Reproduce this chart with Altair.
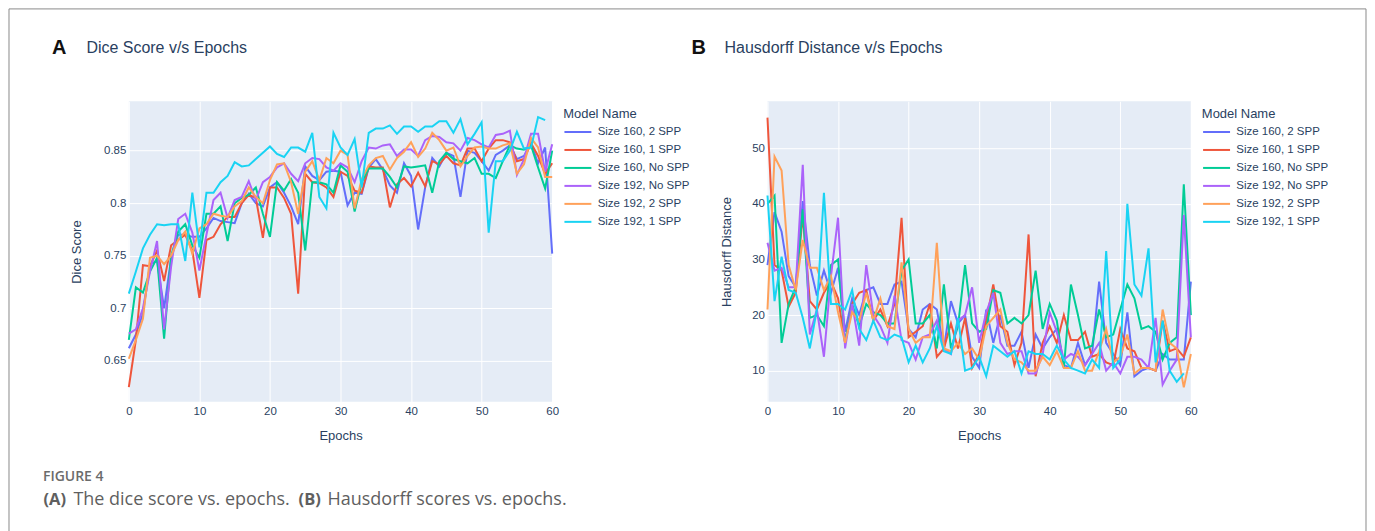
import altair as alt
import pandas as pd

MODELS = ["Size 160, 2 SPP", "Size 160, 1 SPP", "Size 160, No SPP",
          "Size 192, No SPP", "Size 192, 2 SPP", "Size 192, 1 SPP"]
COLORS = ["#636EFA", "#EF553B", "#00CC96", "#AB63FA", "#FFA15A", "#19D3F3"]
X_TICKS = [0, 10, 20, 30, 40, 50, 60]
DICE_TICKS = [0.65, 0.7, 0.75, 0.8, 0.85]
HD_TICKS = [10, 20, 30, 40, 50]

dice_160_2spp = [.662, .675, .695, .742, .745, .700, .748, .770, .770, .768,
                 .768, .776, .786, .783, .782, .781, .800, .809, .800, .797,
                 .815, .820, .810, .797, .780, .835, .826, .822, .830, .831,
                 .830, .798, .810, .809, .834, .842, .832, .817, .810, .838,
                 .826, .775, .815, .843, .835, .848, .845, .806, .850, .848,
                 .840, .831, .846, .850, .855, .842, .845, .857, .838, .853,
                 .752]
dice_160_1spp = [.625, .670, .741, .740, .755, .726, .760, .765, .770, .755,
                 .710, .765, .768, .780, .787, .787, .800, .808, .805, .767,
                 .815, .815, .805, .790, .714, .828, .820, .819, .815, .806,
                 .830, .826, .812, .810, .835, .834, .834, .796, .818, .824,
                 .816, .829, .816, .840, .837, .845, .838, .836, .852, .852,
                 .840, .852, .860, .860, .858, .840, .842, .857, .845, .828,
                 .838]
dice_160_nospp = [.670, .720, .715, .735, .748, .671, .750, .773, .780, .760,
                  .748, .790, .790, .797, .764, .800, .805, .808, .815, .790,
                  .768, .820, .812, .823, .810, .755, .820, .820, .818, .810,
                  .836, .830, .792, .820, .833, .833, .833, .825, .815, .835,
                  .834, .835, .836, .810, .840, .848, .842, .840, .838, .843,
                  .828, .828, .824, .840, .855, .852, .851, .855, .834, .814,
                  .850]
dice_192_nospp = [.676, .680, .700, .735, .764, .680, .740, .785, .790, .772,
                  .736, .770, .803, .810, .786, .803, .806, .821, .803, .820,
                  .825, .834, .838, .828, .821, .838, .843, .842, .834, .831,
                  .838, .834, .820, .840, .853, .852, .855, .856, .845, .851,
                  .851, .845, .860, .864, .863, .858, .857, .850, .862, .860,
                  .856, .853, .865, .866, .869, .827, .842, .866, .866, .830,
                  .856]
dice_192_2spp = [.652, .670, .690, .748, .750, .742, .750, .765, .773, .752,
                 .776, .780, .790, .788, .787, .797, .802, .815, .806, .800,
                 .822, .837, .838, .820, .790, .830, .840, .822, .843, .838,
                 .850, .846, .795, .823, .836, .843, .845, .832, .843, .849,
                 .858, .844, .852, .867, .860, .850, .853, .835, .845, .853,
                 .854, .852, .852, .855, .857, .828, .837, .862, .853, .825,
                 .825]
dice_192_1spp = [.714, .735, .757, .770, .780, .779, .780, .780, .745, .810,
                 .758, .810, .810, .820, .826, .839, .835, .836, .842, .848,
                 .854, .847, .844, .853, .853, .849, .867, .806, .795, .867,
                 .853, .846, .861, .815, .867, .871, .871, .874, .866, .873,
                 .873, .868, .873, .873, .878, .878, .867, .880, .856, .866,
                 .877, .772, .840, .840, .850, .868, .852, .853, .882, .879]

hd_160_2spp = [29, 38.5, 35, 27, 25, 40.5, 29, 23.5, 28, 24,
               28.5, 17, 23, 20, 24.5, 25, 22, 22, 25.5, 26,
               17.5, 16, 21, 22, 21, 14, 22.5, 18.5, 20, 12.5,
               10.5, 21, 15, 20, 14.5, 14.5, 17, 10.5, 16.5, 14,
               16, 17.5, 11, 10.5, 15, 11, 13, 26, 15, 13,
               11, 20.5, 9, 10, 10.5, 10, 13, 12, 12, 12,
               26]
hd_160_1spp = [55.5, 29, 28, 21.5, 24, 38, 22.5, 21, 24, 26,
               23, 15, 22, 24, 24.5, 19, 21, 18, 22, 37.5,
               16, 17, 18, 22, 12.5, 14, 18.5, 14, 19.5, 10.5,
               13, 19, 25.5, 18, 17, 11, 15, 34.5, 9, 15,
               18, 15, 20, 15.5, 15.5, 17, 12.5, 13, 11.5, 11,
               17.5, 14, 13.5, 10.5, 10.5, 10, 19, 13.5, 14, 12.5,
               16]
hd_160_nospp = [40, 41.5, 15, 22, 25, 39, 19.5, 20, 18, 29,
                30, 15, 22, 18, 22, 20.5, 20, 18.5, 18.5, 28,
                30, 18.5, 18.5, 20, 14, 25.5, 14, 18, 29, 18.5,
                17, 17.5, 24.5, 24, 18.5, 19.5, 18.5, 20, 28, 17.5,
                22, 19, 10.5, 25.5, 20, 14, 14.5, 21, 16, 16.5,
                21, 25.5, 23, 17.5, 18, 17, 12, 15, 16, 43.5,
                20]
hd_192_nospp = [33, 28, 28.5, 25, 25, 47, 16.5, 21, 12.5, 27,
                37.5, 14, 22, 14.5, 29, 20, 18, 15, 23.5, 15.5,
                15, 12, 16, 16.5, 19, 14, 13, 19, 20, 25,
                15, 20.5, 24, 15, 13, 13.5, 13.5, 9.5, 9.5, 13,
                20.5, 17, 12, 13, 12.5, 11, 13, 15, 10, 11.5,
                9.5, 12.5, 12.5, 12, 10.5, 19.5, 7.5, 10, 12, 38,
                16]
hd_192_2spp = [21, 48.5, 46, 29, 24.5, 33.5, 28.5, 28.5, 24.5, 27,
               20.5, 15, 20.5, 19, 24, 19, 23, 18, 17.5, 29.5,
               17.5, 15, 16, 16, 33, 14, 13.5, 15, 13, 14,
               12, 18, 19.5, 21, 15, 12, 11.5, 10, 10, 12.5,
               11, 13.5, 10.5, 10.5, 13.5, 10, 10, 13.5, 17.5, 11.5,
               12.5, 16.5, 9.5, 10.5, 10.5, 10, 21, 15, 14, 7,
               13]
hd_192_1spp = [41.5, 22.5, 30.5, 24.5, 24, 19.5, 14, 21, 42, 22,
               22, 21, 24.5, 17.5, 15.5, 19, 16, 15.5, 16.5, 16,
               11.5, 14.5, 11.5, 14, 18, 13.5, 13, 19.5, 10, 10.5,
               12.5, 9, 14.5, 13.5, 12.5, 13.5, 9.5, 13.5, 13, 13,
               12, 14.5, 12, 10.5, 10, 9.5, 12, 10.5, 31.5, 10.5,
               12, 40, 25.5, 23.5, 32, 11.5, 19, 10, 8, 9.5]

DICE = [dice_160_2spp, dice_160_1spp, dice_160_nospp,
        dice_192_nospp, dice_192_2spp, dice_192_1spp]
HD = [hd_160_2spp, hd_160_1spp, hd_160_nospp,
      hd_192_nospp, hd_192_2spp, hd_192_1spp]


def to_long(series_list):
    rows = []
    for name, vals in zip(MODELS, series_list):
        for ep, v in enumerate(vals):
            rows.append({"Epochs": ep, "value": v, "Model Name": name})
    return pd.DataFrame(rows)


INK = "#2a3f5f"
FONT = "Liberation Sans"
W, H = 424, 301
one = pd.DataFrame({"k": [0]})


def txt(text, x, y, size, weight="normal", color=INK, font=FONT):
    return alt.Chart(one).mark_text(
        text=text, align="left", baseline="middle", fontSize=size,
        fontWeight=weight, color=color, font=font
    ).encode(x=alt.value(x), y=alt.value(y))


def panel(series_list, ytitle, ydomain, yticks, yfmt, ytitle_pad):
    df = to_long(series_list)
    return alt.Chart(df).mark_line(strokeWidth=2).encode(
        x=alt.X("Epochs:Q",
                scale=alt.Scale(domain=[0, 60], nice=False),
                axis=alt.Axis(values=X_TICKS, title="Epochs", labelPadding=4,
                              titlePadding=12, labelFlush=False)),
        y=alt.Y("value:Q",
                scale=alt.Scale(domain=ydomain, nice=False, zero=False),
                axis=alt.Axis(values=yticks, format=yfmt, title=ytitle,
                              labelPadding=3, titlePadding=ytitle_pad,
                              labelFlush=False)),
        color=alt.Color("Model Name:N",
                        scale=alt.Scale(domain=MODELS, range=COLORS),
                        legend=alt.Legend(
                            title="Model Name", orient="none",
                            legendX=435, legendY=7, padding=0,
                            titleFontSize=13, titleFontWeight="normal",
                            titleColor=INK, titleFont=FONT, titlePadding=5,
                            labelFontSize=11.5, labelColor=INK, labelFont=FONT,
                            symbolType="M-1,0L5,0", symbolSize=81,
                            symbolStrokeWidth=2, labelOffset=23,
                            rowPadding=5)),
    ).properties(width=W, height=H)


lines_a = panel(DICE, "Dice Score", [0.611, 0.897], DICE_TICKS, ".2~f", 20)
lines_b = panel(HD, "Hausdorff Distance", [4.4, 58.44], HD_TICKS, "d", 18)

border = alt.Chart(one).mark_rect(
    fillOpacity=0, stroke="#8a8a8a", strokeWidth=1
).encode(x=alt.value(-120), x2=alt.value(1239),
         y=alt.value(-92.5), y2=alt.value(470))

CAP = "#5f5f5f"
chart_a = alt.layer(
    lines_a,
    txt("A", -77, -53, 20, "bold", "#111111"),
    txt("Dice Score v/s Epochs", -42.5, -53, 16),
    txt("FIGURE 4", -86, 376, 14, 600, "#6b6b6b", "Open Sans"),
    txt("(A)", -85.5, 399, 16.5, "bold", CAP, "Open Sans"),
    txt("The dice score vs. epochs.", -55.5, 399, 18, "normal", CAP, "Open Sans"),
    txt("(B)", 170, 399, 16.5, "bold", CAP, "Open Sans"),
    txt("Hausdorff scores vs. epochs.", 199, 399, 18, "normal", CAP, "Open Sans"),
    border,
)
chart_b = alt.layer(
    lines_b,
    txt("B", -76, -53, 20, "bold", "#111111"),
    txt("Hausdorff Distance v/s Epochs", -43, -53, 16),
)

chart = alt.hconcat(chart_a, chart_b, spacing=215.6, bounds="flush").resolve_scale(
    color="independent"
).properties(padding=0, background="white").configure_view(
    fill="#E5ECF6", strokeWidth=0
).configure_axis(
    grid=True, gridColor="white", gridWidth=1, domain=False, ticks=False,
    labelColor=INK, labelFont=FONT, labelFontSize=11.5,
    titleColor=INK, titleFont=FONT, titleFontSize=13, titleFontWeight="normal"
)

chart.save("out.html", embed_options={"renderer": "svg", "actions": False})
